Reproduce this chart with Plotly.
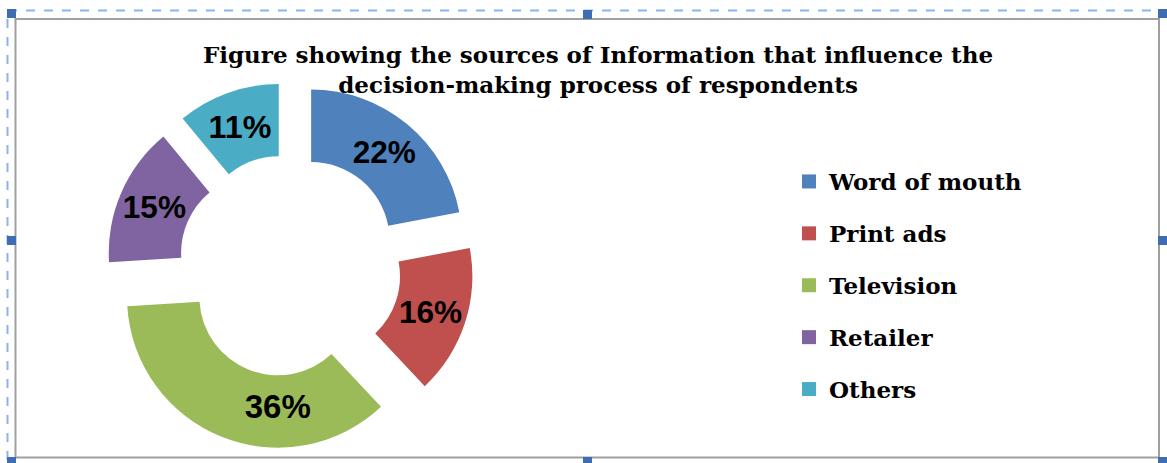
import plotly.graph_objects as go

# ---- data ----
categories = ["Word of mouth", "Print ads", "Television", "Retailer", "Others"]
values = [22, 16, 36, 15, 11]
colors = ["#4F81BD", "#C0504D", "#9BBB59", "#8064A2", "#4BACC6"]
title_text = ("Figure showing the sources of Information that influence the<br>"
              "decision-making process of respondents")

W, H = 1167, 463


def px(x):
    return x / W


def py(y):
    return 1 - y / H


fig = go.Figure()

fig.add_trace(go.Pie(
    labels=categories,
    values=values,
    marker=dict(colors=colors, line=dict(width=0)),
    hole=0.52,
    pull=[0.22] * len(values),
    sort=False,
    direction="clockwise",
    rotation=0,
    textinfo="percent",
    texttemplate="%{percent:.0%}",
    textposition="inside",
    insidetextorientation="horizontal",
    textfont=dict(family="Liberation Sans, Arial", size=33, color="#000000", weight="bold"),
    domain=dict(x=[px(105), px(475)], y=[py(450), py(82)]),
    showlegend=False,
    hoverinfo="label+percent",
))

# legend entries (one group each so the spacing matches)
for cat, col in zip(categories, colors):
    fig.add_trace(go.Scatter(
        x=[None], y=[None], mode="markers",
        marker=dict(symbol="square", size=14, color=col),
        name=cat, legendgroup=cat, showlegend=True,
    ))

shapes = []
# outer dashed selection frame (right/bottom edges fall outside the picture)
shapes.append(dict(type="rect", xref="paper", yref="paper",
                   x0=px(7.5), x1=px(1175), y0=py(475), y1=py(10.5),
                   line=dict(color="#8DB4E8", width=2, dash="dash"),
                   fillcolor="rgba(0,0,0,0)", layer="above"))
# inner grey chart border
shapes.append(dict(type="rect", xref="paper", yref="paper",
                   x0=px(15.5), x1=px(1159), y0=py(457.5), y1=py(19),
                   line=dict(color="#A0A0A0", width=2),
                   fillcolor="rgba(0,0,0,0)", layer="above"))
# selection handles
handles = [(7, 9), (583, 10), (1158, 9), (7, 236), (1158, 236),
           (7, 457), (583, 457), (1158, 457)]
for hx, hy in handles:
    shapes.append(dict(type="rect", xref="paper", yref="paper",
                       x0=px(hx), x1=px(hx + 9), y0=py(hy + 9), y1=py(hy),
                       line=dict(width=0), fillcolor="#3F6DB3", layer="above"))

fig.update_layout(
    width=W, height=H,
    margin=dict(l=0, r=0, t=0, b=0, pad=0),
    paper_bgcolor="#FFFFFF",
    plot_bgcolor="#FFFFFF",
    xaxis=dict(visible=False),
    yaxis=dict(visible=False),
    title=dict(
        text=title_text,
        x=px(598), xanchor="center",
        y=py(63), yanchor="top", yref="container", xref="container",
        font=dict(family="DejaVu Serif", size=23, color="#000000", weight="bold"),
    ),
    legend=dict(
        x=px(789), xanchor="left",
        y=py(160), yanchor="top",
        font=dict(family="DejaVu Serif", size=23, color="#000000", weight="bold"),
        tracegroupgap=19,
        traceorder="grouped",
        bgcolor="rgba(0,0,0,0)",
        itemclick=False, itemdoubleclick=False,
    ),
    shapes=shapes,
    showlegend=True,
)

fig.write_html("out.html",
               config={"displayModeBar": False},
               post_script="document.body.style.margin='0';document.body.style.overflow='hidden';")
